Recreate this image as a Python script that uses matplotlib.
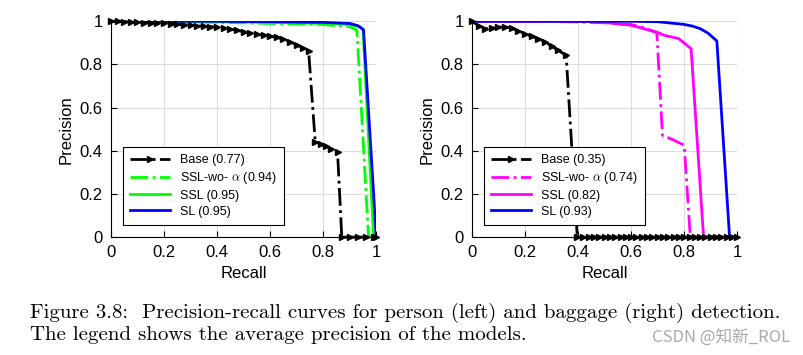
import numpy as np
import matplotlib
matplotlib.use("Agg")
import matplotlib.pyplot as plt
from matplotlib.ticker import FormatStrFormatter

# ---- data ----
# person (left)
L_base_r = [0, .025, .05, .075, .1, .125, .15, .175, .2, .225, .25, .275, .3, .325, .35, .375,
            .4, .425, .45, .475, .5, .525, .55, .575, .6, .625, .65, .675, .7, .725, .745,
            .77, .79, .81, .83, .854, .87, .90, .93, .96, .99, 1.0]
L_base_p = [1, 1, .998, .997, .995, .994, .993, .991, .99, .988, .986, .984, .982, .979, .977, .975,
            .973, .968, .963, .958, .952, .946, .94, .935, .93, .925, .916, .905, .89, .876, .862,
            .441, .432, .42, .41, .395, 0, 0, 0, 0, 0, 0]
L_sslwo_r = [0, .2, .4, .6, .8, .9, .927, .971, 1.0]
L_sslwo_p = [1, 1, .995, .99, .985, .975, .958, 0, 0]
L_ssl_r = [0, .2, .4, .6, .8, .9, .94, .95, .99, 1.0]
L_ssl_p = [1, 1, .998, .995, .99, .985, .975, .962, 0, 0]
L_sl_r = [0, .2, .4, .6, .8, .9, .93, .952, 1.0]
L_sl_p = [1, 1, 1, .998, .995, .99, .98, .961, 0]
L_ap = [0.77, 0.94, 0.95, 0.95]

# baggage (right)
R_base_r = [0, .025, .05, .075, .1, .125, .15, .175, .2, .225, .25, .275, .3, .325, .355, .397,
            .42, .44, .46, .48, .50, .52, .54, .56, .58, .60, .62, .64, .66, .68, .70, .72,
            .74, .76, .78, .80, .82, .84, .86, .88, .90, .92, .94, .96, .98, 1.0]
R_base_p = [1, .98, .966, .968, .972, .974, .968, .955, .943, .93, .92, .905, .885, .865, .843, 0,
            0, 0, 0, 0, 0, 0, 0, 0, 0, 0, 0, 0, 0, 0, 0, 0,
            0, 0, 0, 0, 0, 0, 0, 0, 0, 0, 0, 0, 0, 0]
R_sslwo_r = [0, .2, .4, .5, .6, .65, .697, .718, .76, .8, .823, 1.0]
R_sslwo_p = [1, 1, .997, .993, .985, .97, .946, .472, .45, .426, 0, 0]
R_ssl_r = [0, .2, .4, .5, .603, .65, .697, .725, .779, .826, .873, 1.0]
R_ssl_p = [1, 1, 1, .995, .981, .965, .95, .935, .92, .873, 0, 0]
R_sl_r = [0, .4, .6, .7, .797, .83, .86, .89, .923, .971, 1.0]
R_sl_p = [1, 1, 1, .998, .986, .978, .966, .945, .909, 0, 0]
R_ap = [0.35, 0.74, 0.82, 0.93]

ticks = [0, 0.2, 0.4, 0.6, 0.8, 1]

plt.rcParams['font.family'] = ['Liberation Sans', 'DejaVu Sans']
plt.rcParams['mathtext.fontset'] = 'cm'

fig = plt.figure(figsize=(8.04, 3.55), dpi=100)
ax1 = fig.add_axes([0.138, 0.332, 0.330, 0.608])
ax2 = fig.add_axes([0.587, 0.332, 0.330, 0.608])


def draw(ax, base, sslwo, ssl, sl, ap, col):
    ax.plot(base[0], base[1], color='black', ls='-.', lw=2, marker='>', ms=5,
            clip_on=False, zorder=3, label='Base (%.2f)' % ap[0])
    ax.plot(sslwo[0], sslwo[1], color=col, ls='-.', lw=2,
            label=r'SSL-wo- $\alpha$ (%.2f)' % ap[1])
    ax.plot(ssl[0], ssl[1], color=col, ls='-', lw=2, label='SSL (%.2f)' % ap[2])
    ax.plot(sl[0], sl[1], color='#0000ff', ls='-', lw=2, label='SL (%.2f)' % ap[3])
    ax.set_xlim(0, 1)
    ax.set_ylim(0, 1)
    ax.set_xticks(ticks)
    ax.set_yticks(ticks)
    ax.xaxis.set_major_formatter(FormatStrFormatter('%g'))
    ax.yaxis.set_major_formatter(FormatStrFormatter('%g'))
    ax.grid(True, color='#dddddd', lw=0.8)
    ax.set_axisbelow(True)
    for s in ['top', 'right']:
        ax.spines[s].set_visible(False)
    ax.tick_params(direction='in', labelsize=12, length=4, pad=6)
    ax.set_xlabel('Recall', fontsize=12, labelpad=4)
    ax.set_ylabel('Precision', fontsize=12, labelpad=4)
    leg = ax.legend(loc='lower left', bbox_to_anchor=(0.044, 0.056), borderaxespad=0,
                    fontsize=9, frameon=True, fancybox=False, edgecolor='black',
                    framealpha=1, handlelength=3.2, labelspacing=0.3, borderpad=0.6)
    leg.get_frame().set_linewidth(0.8)


draw(ax1, (L_base_r, L_base_p), (L_sslwo_r, L_sslwo_p), (L_ssl_r, L_ssl_p),
     (L_sl_r, L_sl_p), L_ap, '#00ff00')
draw(ax2, (R_base_r, R_base_p), (R_sslwo_r, R_sslwo_p), (R_ssl_r, R_ssl_p),
     (R_sl_r, R_sl_p), R_ap, '#ff00ff')

fig.text(0.037, 0.104, 'Figure 3.8:  Precision-recall curves for person (left) and baggage (right) detection.',
         family=['cmr10', 'DejaVu Serif'], fontsize=15, va='baseline')
fig.text(0.037, 0.043, 'The legend shows the average precision of the models.',
         family=['cmr10', 'DejaVu Serif'], fontsize=15, va='baseline')
fig.text(0.983, 0.037, 'CSDN @知新_ROL', family=['Noto Sans CJK SC', 'DejaVu Sans'],
         fontsize=12, color='#aaaaaa', ha='right', va='baseline')

fig.savefig('out.png', dpi=100)
